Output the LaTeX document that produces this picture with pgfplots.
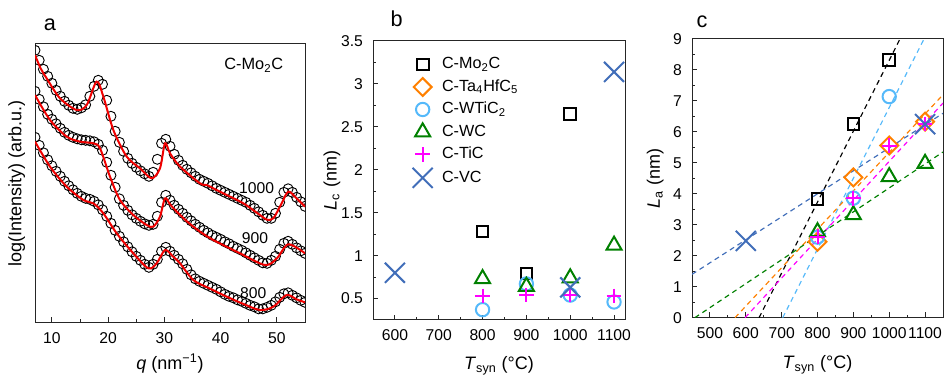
\documentclass[border=0pt]{standalone}
\usepackage{fontspec}
\setmainfont{Liberation Sans}
\usepackage{pgfplots}
\pgfplotsset{compat=1.18}

\definecolor{cOrange}{RGB}{255,128,0}
\definecolor{cSky}{RGB}{85,185,250}
\definecolor{cGreen}{RGB}{0,128,0}
\definecolor{cMag}{RGB}{255,0,255}
\definecolor{cBlue}{RGB}{65,110,185}
\definecolor{cFit}{RGB}{240,0,0}

\pgfplotsset{
  panel/.style={
    scale only axis,
    axis line style={line width=0.6pt, black!85},
    every tick/.style={line width=0.6pt, black!85},
    tick align=inside,
    major tick length=3.2pt,
    minor tick length=1.8pt,
    xtick pos=bottom, ytick pos=left,
    tick label style={font=\fontsize{9.4}{11}\selectfont},
    xticklabel style={yshift=-2.5pt},
    yticklabel style={xshift=-2.5pt},
    label style={font=\fontsize{10.8}{13}\selectfont},
    /pgf/number format/assume math mode=true,
    /pgf/number format/1000 sep={},
  },
  mk/.style={only marks, line width=1.2pt,
    legend image code/.code={\path (0pt,0pt) (20pt,0pt);
      \draw[##1] plot[only marks] coordinates {(10pt,0pt)};}},
  sMo/.style={mk, black, mark=square, mark size=3.5pt},
  sTa/.style={mk, cOrange, mark=square, mark size=3.8pt, mark options={rotate=45}},
  sWT/.style={mk, cSky, mark=o, mark size=4pt},
  sWC/.style={mk, cGreen, mark=triangle, mark size=5.2pt},
  sTi/.style={mk, cMag, mark=+, mark size=4.4pt},
  sVC/.style={mk, cBlue, mark=x, mark size=8.5pt},
  fit/.style={dash pattern=on 3pt off 2.4pt, line width=0.7pt, forget plot},
  saxs/.style={only marks, mark=o, mark size=3pt, line width=0.55pt, black},
  model/.style={cFit, line width=1.2pt, smooth, tension=0.5},
}

\begin{document}
\begin{tikzpicture}

% ---------------- (a) scattering profiles of C-Mo2C ----------------
\begin{axis}[panel, at={(21pt,33.4pt)}, anchor=south west,
  width=162pt, height=167pt,
  xmin=7, xmax=55, ymin=0, ymax=278.3,
  xtick={10,20,30,40,50}, minor xtick={15,25,35,45}, ytick=\empty,
  xlabel={\textit{q} (nm\textsuperscript{−1})},
  ylabel={log(Intensity) (arb.u.)},
  xlabel style={at={(axis description cs:0.5,-0.147)}, anchor=center},
  ylabel style={at={(axis description cs:-0.068,0.5)}, anchor=center},
  clip marker paths=true]

% 1000 C
\addplot[saxs] table[x=q,y=v] {
q v
7.00 272
7.75 262
8.50 253
9.25 246
10.00 239
10.75 232
11.50 226
12.25 221
13.00 217
13.75 214
14.50 213
15.25 214.5
16.00 217.5
16.75 226
17.50 236
18.25 242
19.00 238
19.75 222
20.50 206
21.25 191
22.00 180
22.75 171
23.50 164
24.25 159
25.00 155
25.75 151.5
26.50 148.5
27.25 146
28.00 150
28.75 163
29.50 179
30.25 183
31.00 176
31.75 168
32.50 162
33.25 157
34.00 153
34.75 149.5
35.50 146
36.25 143
37.00 141
37.75 139
38.50 136.5
39.25 134
40.00 132
40.75 130
41.50 128
42.25 126
43.00 124
43.75 122
44.50 120
45.25 117
46.00 114
46.75 110.5
47.50 107
48.25 104
49.00 104
49.75 109
50.50 120
51.25 130
52.00 133.5
52.75 130
53.50 125
54.25 120.5
55.00 116
};
\addplot[model] coordinates {
(7,267.3) (8,254) (9.07,244) (11.44,224) (14.41,212.3) (16.19,217.3)
(17.96,240.7) (19.15,225.7) (20.93,192.3) (23.3,165.7) (25.67,154)
(27.74,144) (29.22,154) (30.11,179) (31.0,169) (32.78,155.7) (36.33,139)
(37.52,137.3) (38.7,134) (41.07,127.3) (44.04,119) (47.0,107.3)
(48.19,102.7) (49.37,104) (50.85,119) (52.04,130.7) (53.5,124) (55,115.7)
};

% 900 C
\addplot[saxs] table[x=q,y=v] {
q v
7.00 231
7.75 223
8.50 215.5
9.25 208
10.00 203
10.75 198.5
11.50 194
12.25 190
13.00 187
13.75 185
14.50 183.5
15.25 182.5
16.00 182
16.75 181.5
17.50 180.5
18.25 178
19.00 172
19.75 160
20.50 147
21.25 135
22.00 123.5
22.75 117
23.50 112
24.25 107.5
25.00 104
25.75 101
26.50 98.5
27.25 97
28.00 98
28.75 106
29.50 120
30.25 127
31.00 122
31.75 117
32.50 113
33.25 109
34.00 105
34.75 101.5
35.50 98
36.25 95
37.00 92
37.75 89.5
38.50 87
39.25 85
40.00 83
40.75 80.5
41.50 78.5
42.25 76
43.00 74
43.75 72
44.50 69.5
45.25 67
46.00 64.5
46.75 62
47.50 59.5
48.25 59
49.00 62
49.75 66
50.50 73
51.25 79
52.00 81
52.75 78
53.50 74.5
54.25 71.5
55.00 69
};
\addplot[model] coordinates {
(7,227.3) (9.67,202.3) (12.63,185.7) (15.0,180.7) (17.37,179) (18.56,174)
(20.33,145.7) (22.11,122.3) (24.48,107.3) (26.85,97.3) (28.04,95.7)
(29.22,105.7) (30.11,124) (31.0,118) (32.19,110.7) (34.2,100) (36.33,90.7)
(38.7,82.3) (43.44,69) (47.9,57.3) (50,64) (52.04,78) (55,69)
};

% 800 C
\addplot[saxs] table[x=q,y=v] {
q v
7.00 185
7.75 177
8.50 169.5
9.25 162.5
10.00 156.5
10.75 151
11.50 146
12.25 141
13.00 136.5
13.75 132.5
14.50 129
15.25 126
16.00 124
16.75 123
17.50 121
18.25 117.5
19.00 112.5
19.75 106
20.50 99
21.25 92
22.00 86
22.75 80.5
23.50 75.5
24.25 70.5
25.00 66
25.75 62
26.50 58
27.25 55
28.00 58
28.75 63
29.50 71
30.25 75
31.00 71
31.75 67
32.50 63
33.25 58.5
34.00 53
34.75 47.5
35.50 43.5
36.25 41
37.00 39
37.75 37
38.50 35
39.25 33
40.00 30.5
40.75 28
41.50 26
42.25 24.5
43.00 22.5
43.75 21
44.50 19
45.25 17
46.00 15.5
46.75 13.5
47.50 13.5
48.25 15
49.00 17
49.75 20.5
50.50 25
51.25 28.5
52.00 29.5
52.75 27
53.50 24.5
54.25 22
55.00 20
};
\addplot[model] coordinates {
(7,180.7) (9.67,155.7) (12.63,135.7) (15.6,122.3) (17.37,119) (19.15,109)
(21.52,89) (24.48,69) (27.15,54) (28.63,59) (30.11,72.3) (31.5,66)
(32.78,59) (35.15,42.3) (38,34) (41.07,25.7) (44,18.5) (47,12.3)
(49.4,15.7) (51.7,27.3) (53.5,23) (55,20)
};

\node[font=\fontsize{9.4}{11}\selectfont] at (axis cs:46.4,134) {1000};
\node[font=\fontsize{9.4}{11}\selectfont] at (axis cs:46.1,84) {900};
\node[font=\fontsize{9.4}{11}\selectfont] at (axis cs:45.8,29) {800};
\node[font=\fontsize{9.8}{12}\selectfont] at (axis cs:45.9,257) {C-Mo\textsubscript{2}C};
\end{axis}

% ---------------- (b) stacking height L_c ----------------
\begin{axis}[panel, at={(223.8pt,34.8pt)}, anchor=south west,
  width=151.2pt, height=167.4pt,
  xmin=550, xmax=1125, ymin=0.25, ymax=3.5,
  xtick={600,700,800,900,1000,1100}, minor x tick num=1,
  ytick={0.5,1,1.5,2,2.5,3,3.5}, minor y tick num=1,
  xlabel={\textit{T}\textsubscript{syn} (°C)},
  ylabel={\textit{L}\textsubscript{c} (nm)},
  xlabel style={at={(axis description cs:0.5,-0.165)}, anchor=center},
  ylabel style={at={(axis description cs:-0.163,0.5)}, anchor=center},
  legend style={at={(0,1)}, anchor=north west, xshift=19pt, yshift=-8.4pt,
    draw=none, fill=none, inner sep=0pt,
    font=\fontsize{9.7}{11}\selectfont, row sep=2.5pt,
    nodes={inner sep=1pt, text height=7pt, text depth=2pt}},
  legend cell align=left]
\addplot[sMo] coordinates {(800,1.28) (900,0.79) (1000,2.65)};
\addlegendentry{C-Mo\textsubscript{2}C}
\addlegendimage{sTa}
\addlegendentry{C-Ta\textsubscript{4}HfC\textsubscript{5}}
\addplot[sWT] coordinates {(800,0.37) (900,0.67) (1000,0.54) (1100,0.46)};
\addlegendentry{C-WTiC\textsubscript{2}}
\addplot[sWC] coordinates {(800,0.73) (900,0.64) (1000,0.74) (1100,1.12)};
\addlegendentry{C-WC}
\addplot[sTi] coordinates {(800,0.53) (900,0.54) (1000,0.54) (1100,0.53)};
\addlegendentry{C-TiC}
\addplot[sVC] coordinates {(600,0.80) (1000,0.63) (1100,3.14)};
\addlegendentry{C-VC}
\end{axis}

% ---------------- (c) lateral size L_a with linear fits ----------------
\begin{axis}[panel, at={(415.2pt,36.2pt)}, anchor=south west,
  width=150.6pt, height=167.2pt,
  xmin=450, xmax=1150, ymin=0, ymax=9,
  xtick={500,600,700,800,900,1000,1100}, minor x tick num=1,
  ytick={0,1,...,9}, minor y tick num=1,
  xlabel={\textit{T}\textsubscript{syn} (°C)},
  ylabel={\textit{L}\textsubscript{a} (nm)},
  xlabel style={at={(axis description cs:0.5,-0.168)}, anchor=center},
  ylabel style={at={(axis description cs:-0.147,0.5)}, anchor=center}]
\addplot[fit, black]    coordinates {(637,0) (1030,9)};
\addplot[fit, cSky]     coordinates {(703,0) (1097,9)};
\addplot[fit, cOrange]  coordinates {(570,0) (1150,7.2)};
\addplot[fit, cMag]     coordinates {(598,0) (1150,6.93)};
\addplot[fit, cGreen]   coordinates {(458,0) (1150,5.35)};
\addplot[fit, cBlue]    coordinates {(450,1.4) (1150,6.6)};

\addplot[sMo] coordinates {(800,3.83) (900,6.25) (1000,8.33)};
\addplot[sTa] coordinates {(800,2.45) (900,4.53) (1000,5.56) (1100,6.33)};
\addplot[sWT] coordinates {(800,2.6) (900,3.86) (1000,7.14)};
\addplot[sWC] coordinates {(800,2.77) (900,3.32) (1000,4.55) (1100,4.98)};
\addplot[sTi] coordinates {(800,2.62) (900,3.85) (1000,5.56) (1100,6.26)};
\addplot[sVC] coordinates {(600,2.48) (1100,6.25)};
\end{axis}

% panel letters
\node[font=\fontsize{13}{15}\selectfont] at (30pt,211.8pt) {a};
\node[font=\fontsize{13}{15}\selectfont] at (238pt,215.4pt) {b};
\node[font=\fontsize{13}{15}\selectfont] at (421.2pt,213.6pt) {c};

\pgfresetboundingbox
\path[use as bounding box] (0pt,0pt) rectangle (567pt,226.8pt);
\end{tikzpicture}
\end{document}
